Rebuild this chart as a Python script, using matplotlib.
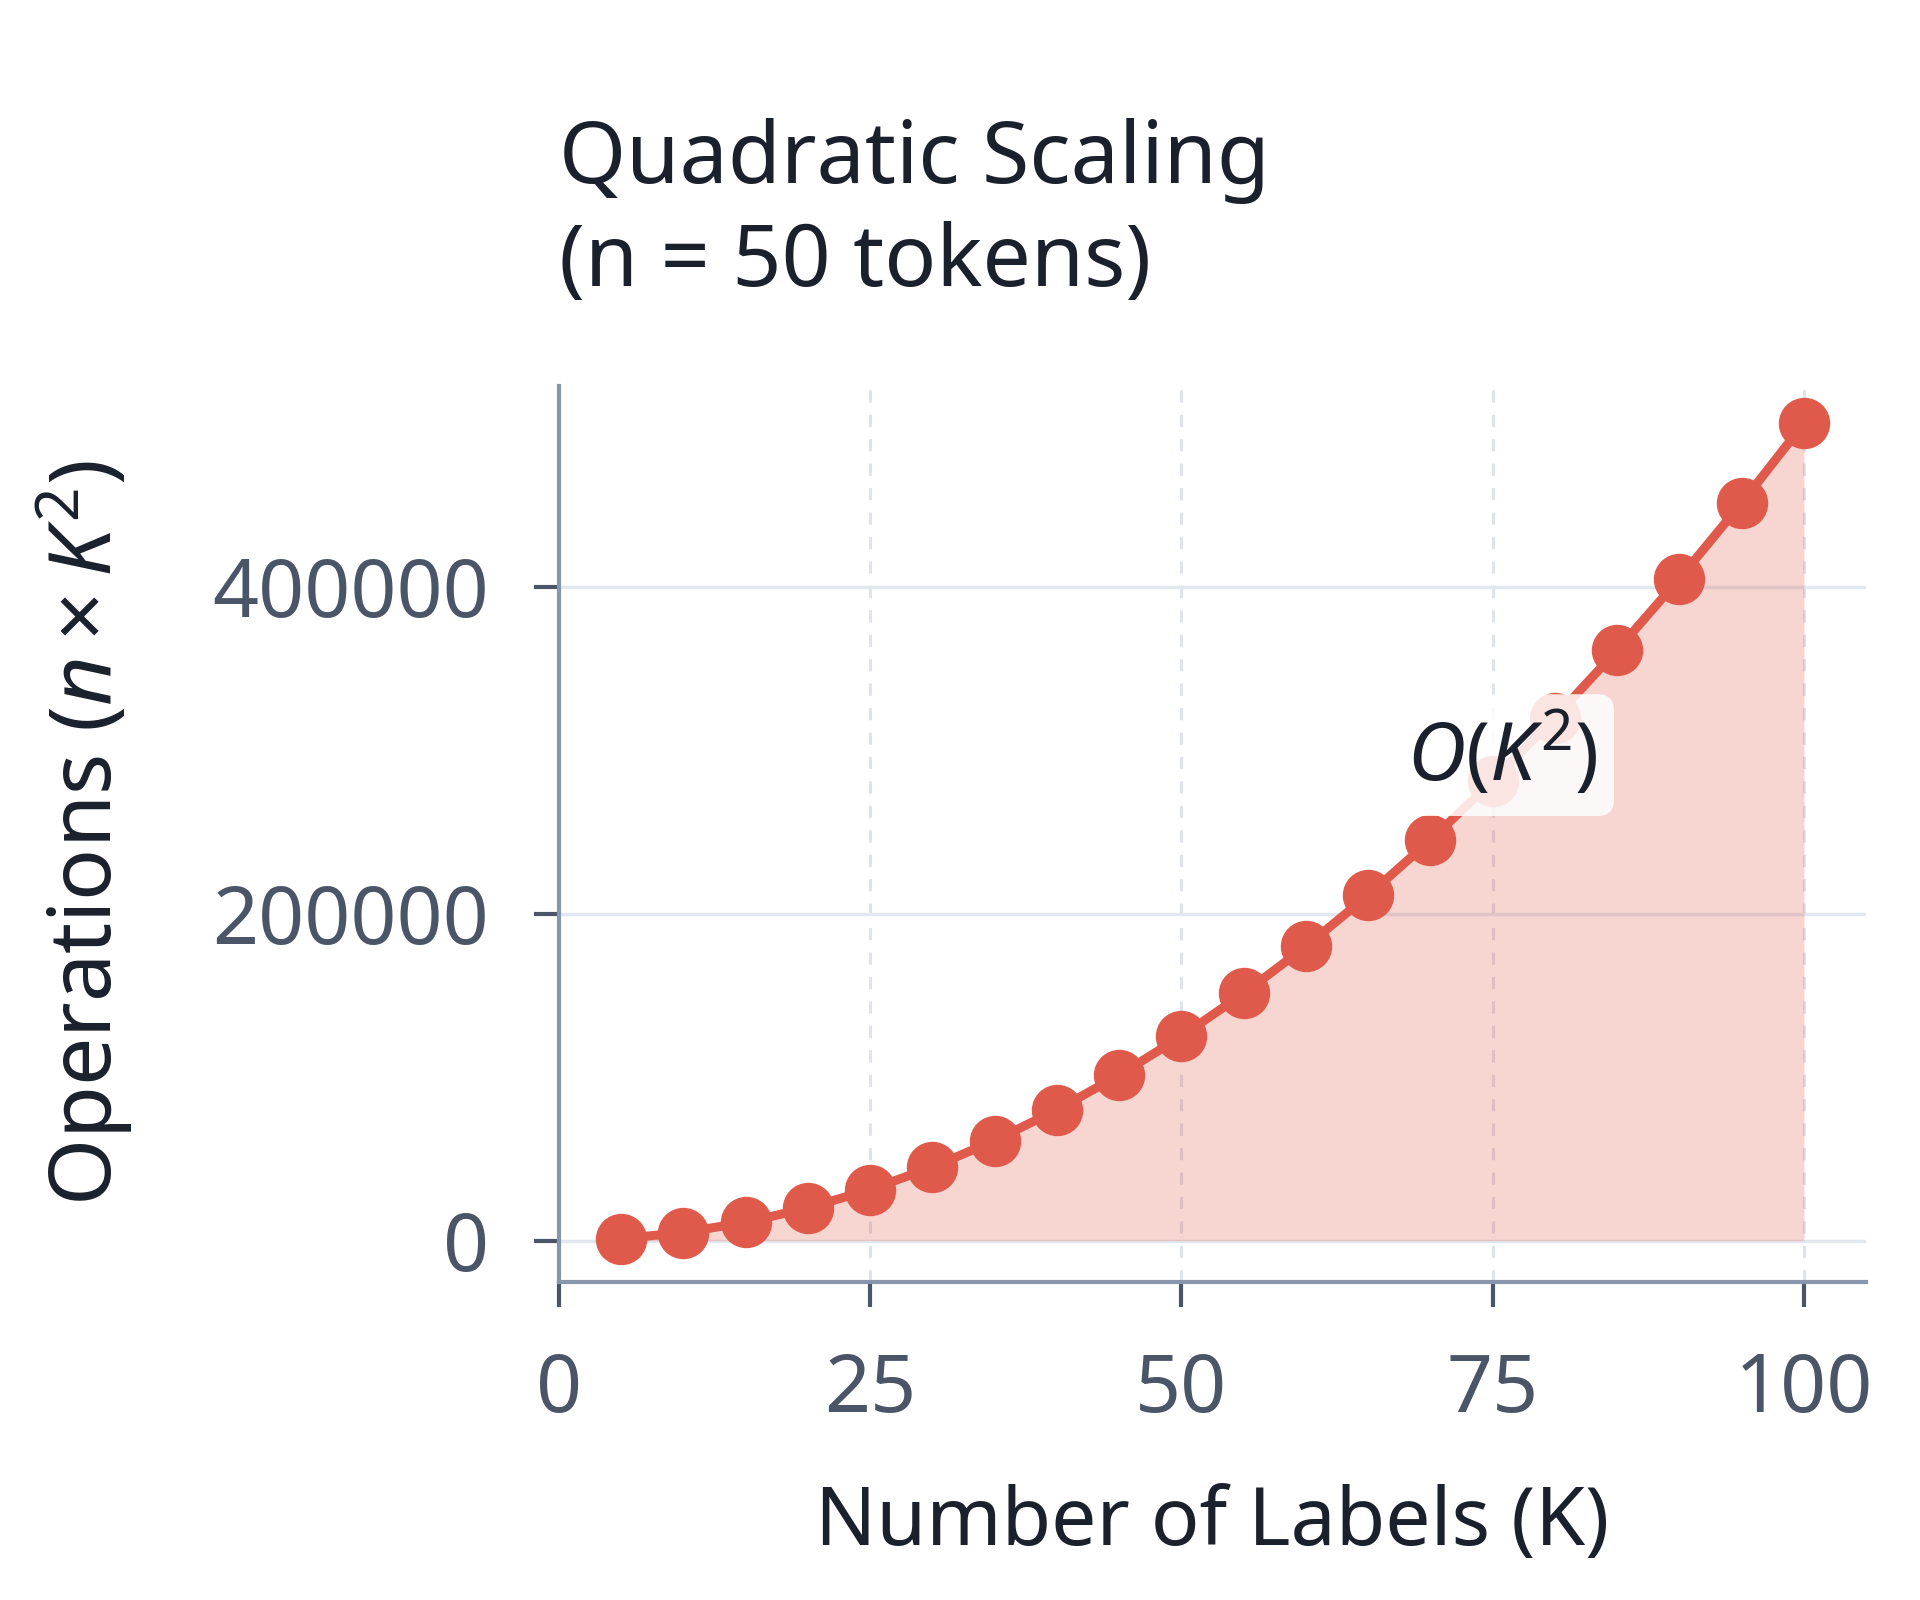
import numpy as np
import matplotlib
matplotlib.use("Agg")
import matplotlib.pyplot as plt

# data: K labels vs operations (n = 50 tokens)
num_labels = [5, 10, 15, 20, 25, 30, 35, 40, 45, 50,
              55, 60, 65, 70, 75, 80, 85, 90, 95, 100]
operations = [1250, 5000, 11250, 20000, 31250, 45000, 61250, 80000, 101250, 125000,
              151250, 180000, 211250, 245000, 281250, 320000, 361250, 405000, 451250, 500000]
x_ticks = [0, 25, 50, 75, 100]
y_ticks = [0, 200000, 400000]

plt.rcParams['font.family'] = ['Noto Sans', 'DejaVu Sans']
plt.rcParams['mathtext.fontset'] = 'custom'
plt.rcParams['mathtext.rm'] = 'Noto Sans'
plt.rcParams['mathtext.it'] = 'Noto Sans:italic'

red = '#e05a4b'
spine_col = '#8796ab'
tick_col = '#4a5568'
text_col = '#1a202c'

fig = plt.figure(figsize=(19.2, 16), dpi=100)
ax = fig.add_axes([0.291, 0.199, 0.681, 0.560])

ax.fill_between(num_labels, operations, 0, color=red, alpha=0.25, linewidth=0, zorder=1)
ax.plot(num_labels, operations, color=red, linewidth=6.5, marker='o',
        markersize=36, zorder=3)

ax.set_xlim(0, 105)
ax.set_ylim(-25000, 523000)
ax.set_xticks(x_ticks)
ax.set_yticks(y_ticks)

ax.yaxis.grid(True, color='#e2e8f0', linewidth=2.5, linestyle='-', zorder=0)
ax.xaxis.grid(True, color='#dfe3ea', linewidth=2.2, linestyle=(0, (4, 4)), zorder=0)
ax.set_axisbelow(True)

for s in ['top', 'right']:
    ax.spines[s].set_visible(False)
for s in ['left', 'bottom']:
    ax.spines[s].set_color(spine_col)
    ax.spines[s].set_linewidth(3)

ax.tick_params(axis='both', colors=tick_col, labelsize=58, length=18, width=3,
               direction='out', pad=32)

ax.set_xlabel('Number of Labels (K)', fontsize=58, color=text_col, labelpad=38)
ax.set_ylabel(r'Operations ($n \times K^2$)', fontsize=62, color=text_col, labelpad=56)

ax.text(75.8, 297000, r'$O(K^2)$', fontsize=58, color=text_col, ha='center', va='center',
        zorder=5,
        bbox=dict(boxstyle='round,pad=0.2', facecolor='white', edgecolor='none', alpha=0.85))

fig.text(0.291, 0.808, 'Quadratic Scaling\n(n = 50 tokens)', fontsize=62, color=text_col,
         ha='left', va='bottom', linespacing=1.27)

fig.savefig('out.png', dpi=100)
